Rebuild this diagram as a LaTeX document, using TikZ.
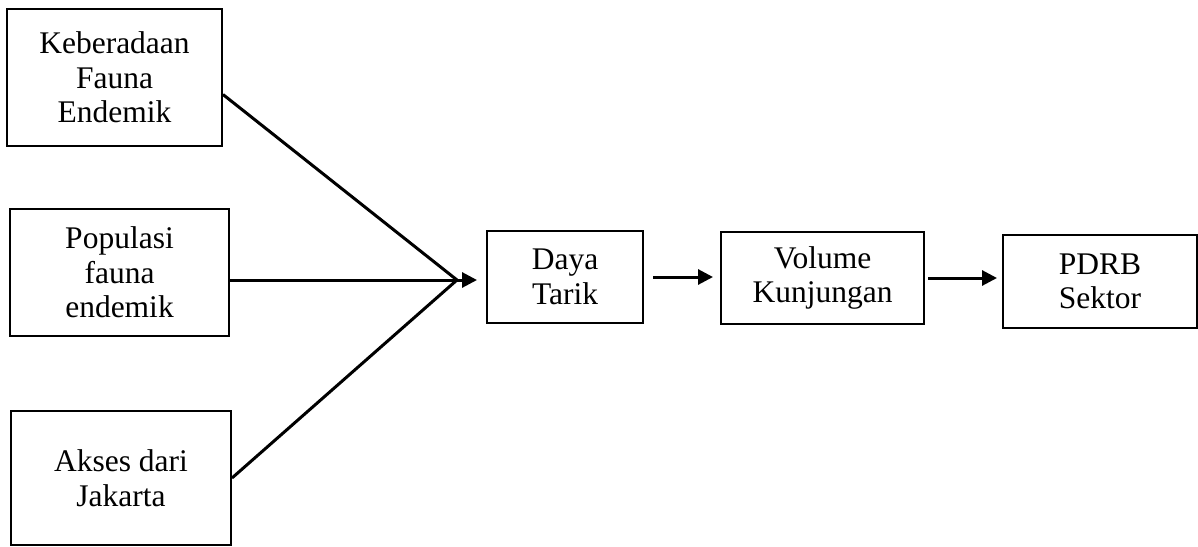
\documentclass[tikz,border=0pt]{standalone}
\usepackage{fontspec}
\setmainfont{Liberation Serif}
\usetikzlibrary{arrows.meta}
\tikzset{kotak/.style={draw,line width=2pt,align=center,inner sep=0pt,
  font=\fontsize{31.5}{34.5}\selectfont},
  panah/.style={line width=3pt,-{Triangle[length=15pt,width=15pt]}}}
\begin{document}
\begin{tikzpicture}[x=1pt,y=-1pt]
\useasboundingbox (0,0) rectangle (1198,546);
\node[kotak,minimum width=215pt,minimum height=137pt] (keb) at (114.5,77.5) {Keberadaan\\Fauna\\Endemik};
\node[kotak,minimum width=219pt,minimum height=127pt] (pop) at (119.5,272.5) {Populasi\\fauna\\endemik};
\node[kotak,minimum width=220pt,minimum height=134pt] (akses) at (121,478) {Akses dari\\Jakarta};
\node[kotak,minimum width=156pt,minimum height=92pt] (daya) at (565,277) {Daya\\Tarik};
\node[kotak,minimum width=203pt,minimum height=92pt] (vol) at (822.5,278) {Volume\\Kunjungan};
\node[kotak,minimum width=194pt,minimum height=93pt] (pdrb) at (1100,281.5) {PDRB\\Sektor};
\coordinate (J) at (457,280);
% garis ke titik temu
\draw[line width=3pt] ([yshift=-17pt]keb.east) -- (J);
\draw[line width=3pt] ([yshift=-7.5pt]pop.east) -- (J);
\draw[line width=3pt] (akses.east) -- (J);
\draw[panah,shorten >=9pt] (J) -- (J -| daya.west);
\draw[panah,shorten <=9pt,shorten >=7pt] (daya.east) -- (daya.east -| vol.west);
\draw[panah,shorten <=3pt,shorten >=5pt] (vol.east) -- (vol.east -| pdrb.west);
\end{tikzpicture}
\end{document}
